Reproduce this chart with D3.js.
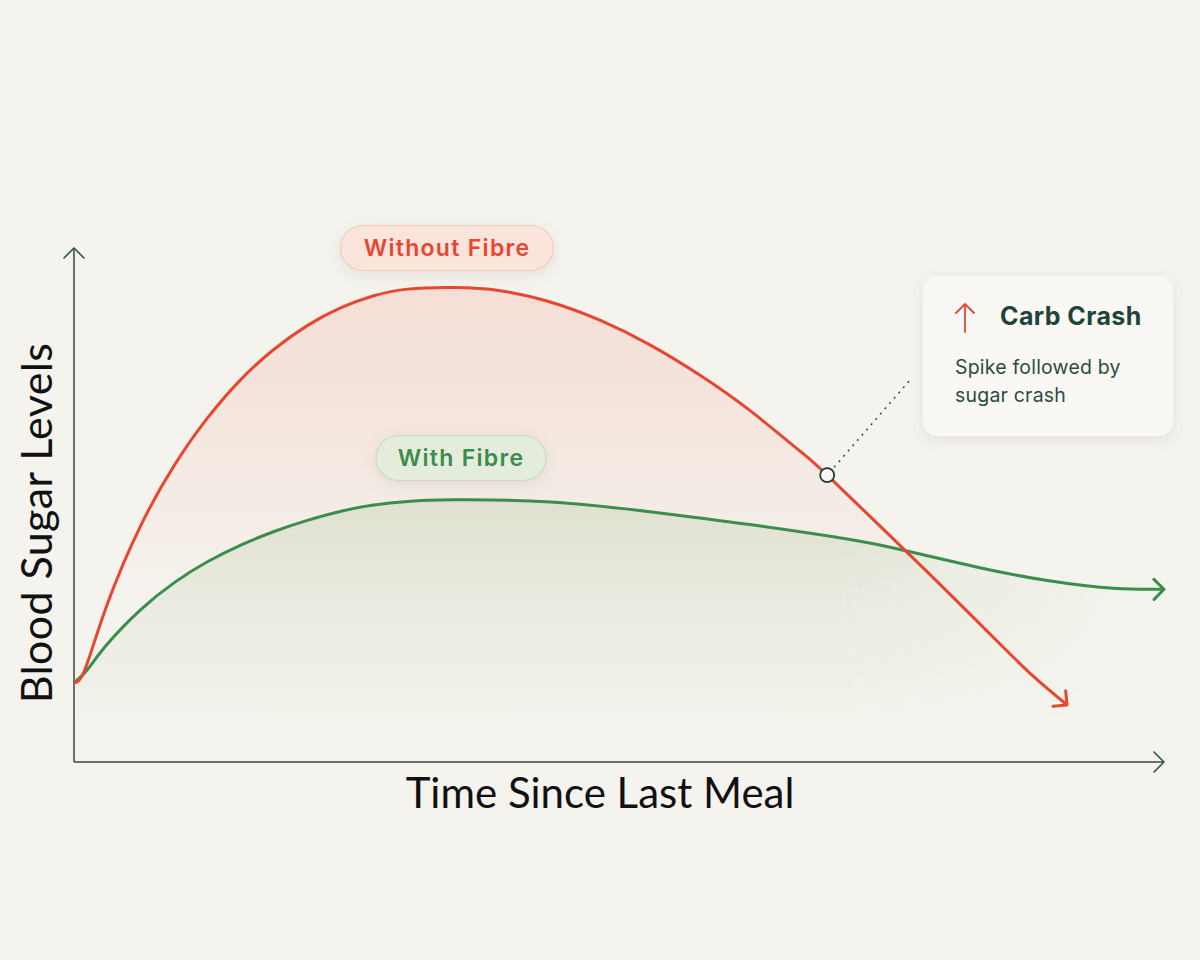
<!DOCTYPE html>
<html>
<head>
<meta charset="utf-8">
<script src="https://cdn.jsdelivr.net/npm/d3@7"></script>
<style>
  body { margin: 0; background: #f5f3ee; }
  svg { display: block; }
</style>
</head>
<body>
<div id="chart"></div>
<script>
// values (time 0-10, level 0-10, arbitrary units)
var redTime   = [0, 0.10, 0.30, 0.61, 0.92, 1.22, 1.53, 1.83, 2.14, 2.45, 2.75, 3.06, 3.49, 3.91, 4.37, 4.83, 5.28, 5.74, 6.20, 6.66, 6.91, 7.58, 8.01, 8.47, 8.80, 9.11];
var redLevel  = [1.54, 1.80, 3.04, 4.59, 5.77, 6.68, 7.44, 8.02, 8.49, 8.84, 9.07, 9.20, 9.23, 9.17, 8.95, 8.59, 8.12, 7.53, 6.84, 6.05, 5.58, 4.21, 3.32, 2.35, 1.67, 1.11];
var greenTime  = [0, 0.12, 0.30, 0.61, 0.92, 1.22, 1.53, 1.83, 2.14, 2.45, 2.75, 3.06, 3.49, 4.37, 5.28, 6.20, 7.12, 7.61, 8.31, 8.93, 9.53, 10.0];
var greenLevel = [1.54, 1.79, 2.28, 2.96, 3.49, 3.89, 4.22, 4.48, 4.70, 4.88, 5.00, 5.07, 5.10, 5.06, 4.87, 4.62, 4.33, 4.12, 3.78, 3.53, 3.38, 3.36];
var crashPoint = {t: 6.91, v: 5.58};

var seriesNames = ["Without Fibre", "With Fibre"];
var calloutTitle = "Carb Crash";
var calloutLines = ["Spike followed by", "sugar crash"];
var xTitle = "Time Since Last Meal";
var yTitle = "Blood Sugar Levels";

var width = 1200, height = 960;
var axisColor = "#2d4c43";
var red = "#e8462f", green = "#3b8d4b";

var svg = d3.select("#chart").append("svg")
    .attr("width", width)
    .attr("height", height);

var x = d3.scaleLinear().domain([0, 10]).range([74, 1164]);
var y = d3.scaleLinear().domain([0, 10]).range([762, 248]);

var redData = redTime.map(function(t, i) { return {t: t, v: redLevel[i]}; });
var greenData = greenTime.map(function(t, i) { return {t: t, v: greenLevel[i]}; });

var defs = svg.append("defs");

function gradient(id, color, y1, y2, op) {
  var g = defs.append("linearGradient").attr("id", id)
      .attr("gradientUnits", "userSpaceOnUse")
      .attr("x1", 0).attr("x2", 0).attr("y1", y1).attr("y2", y2);
  g.append("stop").attr("offset", 0).attr("stop-color", color).attr("stop-opacity", op);
  g.append("stop").attr("offset", 1).attr("stop-color", color).attr("stop-opacity", 0);
}
gradient("redFill", "#f48a72", y(9.2), y(3), 0.2);
gradient("greenFill", "#8fb67a", y(5.1), y(0.5), 0.2);

var hfade = defs.append("linearGradient").attr("id", "hfade")
    .attr("gradientUnits", "userSpaceOnUse")
    .attr("x1", x(7)).attr("x2", x(10)).attr("y1", 0).attr("y2", 0);
hfade.append("stop").attr("offset", 0).attr("stop-color", "#fff");
hfade.append("stop").attr("offset", 1).attr("stop-color", "#000");
defs.append("mask").attr("id", "fadeMask")
  .append("rect").attr("x", 0).attr("y", 0).attr("width", width).attr("height", height)
  .attr("fill", "url(#hfade)");

var shadow = defs.append("filter").attr("id", "shadow")
    .attr("x", "-20%").attr("y", "-20%").attr("width", "140%").attr("height", "160%");
shadow.append("feDropShadow").attr("dx", 0).attr("dy", 4).attr("stdDeviation", 7)
    .attr("flood-color", "#6b6050").attr("flood-opacity", 0.13);

function marker(id, color, size, sw) {
  defs.append("marker").attr("id", id)
      .attr("markerUnits", "userSpaceOnUse")
      .attr("viewBox", "-12 -12 24 24")
      .attr("markerWidth", 24).attr("markerHeight", 24)
      .attr("refX", 0).attr("refY", 0)
      .attr("orient", "auto")
    .append("path")
      .attr("d", "M" + (-size) + "," + (-size) + "L0,0L" + (-size) + "," + size)
      .attr("fill", "none").attr("stroke", color)
      .attr("stroke-width", sw).attr("stroke-linecap", "round").attr("stroke-linejoin", "round");
}
marker("axisArrow", axisColor, 10, 1.5);
marker("redArrow", red, 10, 3);
marker("greenArrow", green, 10, 3);

var curve = d3.curveNatural;
var line = d3.line().x(function(d) { return x(d.t); }).y(function(d) { return y(d.v); })
    .curve(curve);
var area = d3.area().x(function(d) { return x(d.t); }).y1(function(d) { return y(d.v); })
    .y0(y(0)).curve(curve);

// fills
svg.append("path").datum(redData).attr("d", area).attr("fill", "url(#redFill)")
    .attr("mask", "url(#fadeMask)");
svg.append("path").datum(greenData).attr("d", area).attr("fill", "url(#greenFill)")
    .attr("mask", "url(#fadeMask)");

// axes
svg.append("line")
    .attr("x1", x(0)).attr("y1", y(0)).attr("x2", x(0)).attr("y2", y(10))
    .attr("stroke", axisColor).attr("stroke-width", 1.5)
    .attr("marker-end", "url(#axisArrow)");
svg.append("line")
    .attr("x1", x(0)).attr("y1", y(0)).attr("x2", x(10)).attr("y2", y(0))
    .attr("stroke", axisColor).attr("stroke-width", 1.5)
    .attr("marker-end", "url(#axisArrow)");

svg.append("text")
    .attr("x", 600).attr("y", 808)
    .attr("text-anchor", "middle")
    .attr("font-family", "Lato, 'Open Sans', sans-serif")
    .attr("font-size", 42).attr("fill", "#111")
    .text(xTitle);
svg.append("text")
    .attr("transform", "translate(52,523) rotate(-90)")
    .attr("text-anchor", "middle")
    .attr("font-family", "Lato, 'Open Sans', sans-serif")
    .attr("font-size", 43).attr("fill", "#111")
    .attr("letter-spacing", 0.4)
    .text(yTitle);

// lines
svg.append("path").datum(greenData).attr("d", line)
    .attr("fill", "none").attr("stroke", green).attr("stroke-width", 3)
    .attr("marker-end", "url(#greenArrow)");
svg.append("path").datum(redData).attr("d", line)
    .attr("fill", "none").attr("stroke", red).attr("stroke-width", 3)
    .attr("marker-end", "url(#redArrow)");

// series pills
function pill(cx, cy, w, h, label, fill, stroke, color) {
  var g = svg.append("g").attr("transform", "translate(" + cx + "," + cy + ")");
  g.append("rect")
      .attr("x", -w / 2).attr("y", -h / 2).attr("width", w).attr("height", h)
      .attr("rx", h / 2)
      .attr("fill", fill).attr("stroke", stroke).attr("stroke-width", 1.2)
      .attr("filter", "url(#shadow)");
  g.append("text")
      .attr("text-anchor", "middle").attr("dy", "0.36em")
      .attr("font-family", "Inter, 'Open Sans', sans-serif")
      .attr("font-size", 23).attr("font-weight", 600)
      .attr("letter-spacing", 1.3)
      .attr("fill", color).text(label);
}
pill(447, 248, 213, 45, seriesNames[0], "#fbe4dc", "#f4cbbd", red);
pill(461, 458, 170, 45, seriesNames[1], "#e4ecdb", "#c9dcc0", green);

// annotation
var cxp = x(crashPoint.t), cyp = y(crashPoint.v);
svg.append("line")
    .attr("x1", cxp + 7).attr("y1", cyp - 8).attr("x2", 910).attr("y2", 380)
    .attr("stroke", axisColor).attr("stroke-width", 1.5)
    .attr("stroke-dasharray", "2,5");
svg.append("circle")
    .attr("cx", cxp).attr("cy", cyp).attr("r", 7)
    .attr("fill", "#f7f5f1").attr("stroke", "#1f3b33").attr("stroke-width", 1.8);

var box = svg.append("g").attr("transform", "translate(923,276)");
box.append("rect")
    .attr("width", 250).attr("height", 160).attr("rx", 14)
    .attr("fill", "#f9f8f5").attr("filter", "url(#shadow)");
// up-arrow icon
box.append("path")
    .attr("d", "M42,56V28M33,37L42,28L51,37")
    .attr("fill", "none").attr("stroke", red).attr("stroke-width", 1.8)
    .attr("stroke-linecap", "round").attr("stroke-linejoin", "round");
box.append("text")
    .attr("x", 77).attr("y", 49)
    .attr("font-family", "Inter, 'Open Sans', sans-serif")
    .attr("font-size", 25).attr("font-weight", 700)
    .attr("letter-spacing", 0.4)
    .attr("fill", "#21433a").text(calloutTitle);
box.selectAll("text.sub").data(calloutLines).enter().append("text")
    .attr("class", "sub")
    .attr("x", 32).attr("y", function(d, i) { return 98 + i * 28; })
    .attr("font-family", "Inter, 'Open Sans', sans-serif")
    .attr("font-size", 19.5).attr("fill", "#2e4a40")
    .attr("letter-spacing", 0.2)
    .text(function(d) { return d; });
</script>
</body>
</html>
